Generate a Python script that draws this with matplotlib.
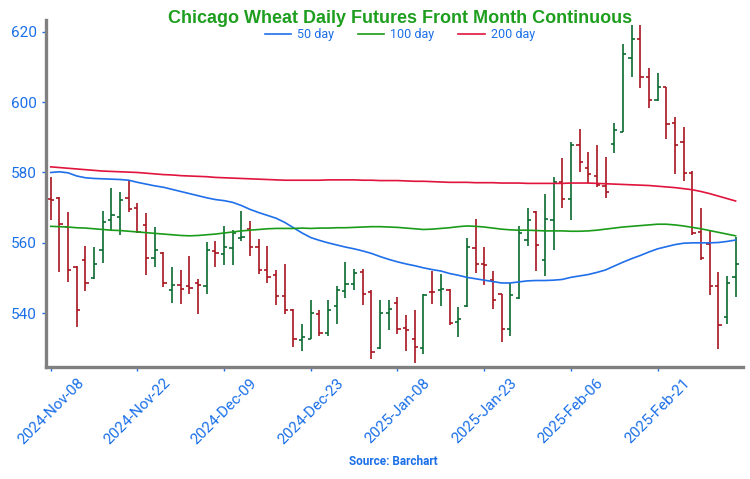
import matplotlib
matplotlib.use("Agg")
import matplotlib.pyplot as plt

# daily OHLC, front month continuous (cents/bu), one entry per trading day
opens = [572.4, 572.7, 564.6, 553.0, 555.1, 550.1, 558.1, 566.5, 567.4, 572.7,
         570.0, 565.1, 555.8, 557.0, 546.7, 548.0, 547.7, 548.5, 547.7, 557.7,
         556.8, 558.4, 561.3, 563.8, 558.7, 552.2, 550.8, 544.8, 541.0, 532.3,
         532.8, 539.7, 534.4, 542.1, 546.4, 548.3, 551.8, 546.1, 530.0, 540.2,
         542.8, 535.9, 532.8, 530.0, 546.1, 546.5, 546.7, 537.5, 542.1, 558.4,
         554.0, 549.4, 545.4, 535.4, 544.2, 560.9, 568.9, 555.1, 566.6, 577.4,
         572.6, 587.8, 581.2, 579.1, 576.3, 588.0, 591.6, 612.5, 618.0, 607.1,
         600.5, 604.2, 594.0, 588.8, 579.8, 563.2, 559.8, 547.8, 538.9, 550.3]
highs = [578.8, 572.9, 568.9, 553.4, 559.1, 558.9, 569.1, 575.7, 574.5, 577.6,
         571.2, 568.4, 564.4, 557.5, 553.0, 552.4, 556.3, 549.6, 560.3, 560.5,
         564.8, 563.6, 569.1, 566.2, 561.0, 559.1, 552.2, 554.1, 541.3, 537.0,
         543.9, 541.0, 543.9, 547.7, 554.6, 552.7, 552.7, 546.7, 543.7, 543.9,
         544.7, 539.4, 541.0, 545.6, 552.0, 551.1, 546.9, 541.8, 561.4, 566.7,
         558.9, 552.1, 545.6, 548.5, 564.8, 569.9, 569.1, 573.9, 578.8, 584.2,
         588.8, 592.4, 585.9, 587.8, 584.5, 594.0, 616.5, 622.0, 622.0, 609.8,
         608.2, 604.4, 595.9, 592.8, 580.4, 570.0, 563.6, 551.6, 550.6, 561.7]
lows = [566.5, 551.8, 548.9, 536.1, 546.4, 549.6, 554.3, 563.6, 562.2, 568.8,
        562.7, 550.8, 553.2, 547.5, 542.8, 542.6, 545.6, 539.9, 545.6, 553.0,
        553.7, 553.7, 560.6, 556.2, 551.1, 548.6, 542.3, 539.9, 530.4, 529.3,
        532.6, 533.5, 533.5, 537.0, 544.2, 546.5, 542.3, 527.1, 529.8, 535.2,
        534.2, 529.3, 525.9, 528.5, 542.6, 542.0, 536.6, 533.3, 541.9, 551.5,
        548.0, 541.3, 531.8, 533.5, 544.0, 559.2, 551.9, 550.7, 558.1, 569.9,
        566.6, 580.0, 576.9, 576.0, 572.8, 585.5, 591.4, 607.0, 604.0, 598.4,
        600.2, 589.5, 579.5, 577.6, 562.2, 555.1, 545.1, 529.8, 536.8, 544.6]
closes = [572.2, 565.5, 552.2, 540.9, 548.5, 554.0, 566.0, 567.9, 572.2, 569.6,
          563.2, 555.6, 557.9, 548.5, 548.0, 547.0, 547.3, 548.0, 558.1, 557.0,
          558.7, 562.7, 561.6, 558.7, 552.2, 550.2, 544.8, 540.9, 532.8, 533.3,
          540.2, 534.4, 540.9, 546.5, 548.3, 551.3, 545.4, 529.0, 540.2, 541.3,
          535.6, 535.2, 530.4, 545.1, 546.0, 547.0, 537.2, 538.5, 558.7, 554.0,
          553.8, 543.9, 535.4, 545.1, 562.7, 566.4, 559.5, 566.8, 577.4, 572.5,
          587.8, 583.1, 579.5, 576.4, 574.4, 592.1, 613.6, 618.0, 607.0, 600.5,
          604.4, 593.7, 587.8, 579.8, 562.7, 555.6, 547.8, 536.6, 548.5, 554.1]

ma50 = [580.0, 580.2, 579.9, 579.0, 578.5, 578.3, 578.2, 578.1, 578.0, 577.8,
        577.2, 576.7, 576.2, 575.8, 575.2, 574.6, 574.0, 573.4, 572.8, 572.3,
        572.0, 571.5, 570.6, 569.5, 568.6, 567.8, 567.0, 565.8, 564.3, 562.8,
        561.5, 560.7, 560.0, 559.4, 558.8, 558.3, 557.7, 557.0, 556.1, 555.3,
        554.6, 554.0, 553.5, 552.9, 552.4, 552.0, 551.3, 550.8, 550.2, 549.8,
        549.4, 549.0, 548.6, 548.6, 548.9, 549.2, 549.3, 549.3, 549.4, 549.6,
        550.2, 550.6, 551.0, 551.6, 552.3, 553.4, 554.5, 555.5, 556.4, 557.4,
        558.3, 558.9, 559.5, 559.9, 560.0, 560.0, 560.0, 560.1, 560.4, 560.8]
ma100 = [564.7, 564.6, 564.5, 564.3, 564.2, 564.0, 563.8, 563.6, 563.5, 563.3,
         563.1, 562.9, 562.7, 562.5, 562.3, 562.1, 562.0, 562.1, 562.3, 562.5,
         562.8, 563.1, 563.4, 563.6, 563.8, 564.0, 564.1, 564.1, 564.1, 564.2,
         564.1, 564.2, 564.2, 564.3, 564.3, 564.4, 564.5, 564.6, 564.6, 564.5,
         564.4, 564.2, 564.0, 563.8, 563.9, 564.1, 564.3, 564.6, 564.8, 564.7,
         564.5, 564.2, 563.9, 563.7, 563.6, 563.6, 563.5, 563.4, 563.4, 563.4,
         563.3, 563.3, 563.4, 563.6, 563.9, 564.2, 564.5, 564.7, 564.9, 565.1,
         565.3, 565.3, 565.1, 564.8, 564.4, 564.0, 563.5, 563.0, 562.5, 562.0]
ma200 = [581.6, 581.4, 581.2, 581.0, 580.8, 580.6, 580.4, 580.3, 580.2, 580.1,
         580.0, 579.8, 579.6, 579.4, 579.3, 579.1, 579.0, 578.9, 578.8, 578.6,
         578.5, 578.4, 578.3, 578.2, 578.1, 578.0, 577.9, 577.8, 577.8, 577.8,
         577.8, 577.8, 577.9, 577.9, 577.9, 577.9, 577.8, 577.8, 577.7, 577.7,
         577.7, 577.6, 577.5, 577.5, 577.4, 577.3, 577.2, 577.2, 577.2, 577.1,
         577.1, 577.1, 577.0, 577.0, 577.0, 576.9, 576.9, 576.9, 576.9, 576.9,
         577.0, 577.0, 577.0, 576.9, 576.8, 576.7, 576.6, 576.5, 576.4, 576.3,
         576.1, 575.9, 575.7, 575.4, 575.1, 574.6, 574.0, 573.3, 572.6, 571.9]

tick_pos = [0, 10, 20, 30, 40, 50, 60, 70]
tick_labels = ["2024-Nov-08", "2024-Nov-22", "2024-Dec-09", "2024-Dec-23",
               "2025-Jan-08", "2025-Jan-23", "2025-Feb-06", "2025-Feb-21"]

blue = "#1a6fe8"
up_col = "#0b6b30"
down_col = "#a8141f"

fig = plt.figure(figsize=(7.5, 4.79), dpi=100)
ax = fig.add_axes([0.0613, 0.2344, 0.9287, 0.7236])

x = list(range(len(opens)))
cols = [up_col if c >= o else down_col for o, c in zip(opens, closes)]
tk = 0.38
ax.vlines(x, lows, highs, colors=cols, lw=1.2)
ax.hlines(opens, [i - tk for i in x], x, colors=cols, lw=1.2)
ax.hlines(closes, x, [i + tk for i in x], colors=cols, lw=1.2)

ax.plot(x, ma50, color="#1f6fea", lw=1.2, label="50 day")
ax.plot(x, ma100, color="#1a9c1a", lw=1.2, label="100 day")
ax.plot(x, ma200, color="#e0143c", lw=1.2, label="200 day")

ax.set_xlim(-0.55, 79.8)
ax.set_ylim(524.8, 623.3)
ax.set_yticks([540, 560, 580, 600, 620])
ax.set_xticks(tick_pos)
ax.set_xticklabels(tick_labels, rotation=45, ha="center")

for s in ["top", "right"]:
    ax.spines[s].set_visible(False)
for s in ["left", "bottom"]:
    ax.spines[s].set_color("#808080")
    ax.spines[s].set_linewidth(2.4)

ax.tick_params(colors=blue, labelsize=11, length=3, width=1)
for lab in ax.get_xticklabels() + ax.get_yticklabels():
    lab.set_fontfamily("Roboto")

fig.text(0.533, 0.962, "Chicago Wheat Daily Futures Front Month Continuous",
         ha="center", va="center", fontsize=13, fontweight="bold",
         color="#1e9e1e", family="Liberation Sans")
leg = fig.legend(loc="center", bbox_to_anchor=(0.533, 0.927), ncol=3,
                 frameon=False, handlelength=2.1,
                 columnspacing=1.9, handletextpad=0.5,
                 prop={"family": "Roboto", "size": 9})
for t in leg.get_texts():
    t.set_color(blue)
fig.text(0.524, 0.036, "Source: Barchart", ha="center", va="center",
         fontsize=8.5, fontweight="bold", color=blue, family="Roboto")

fig.savefig("out.png", dpi=100)
